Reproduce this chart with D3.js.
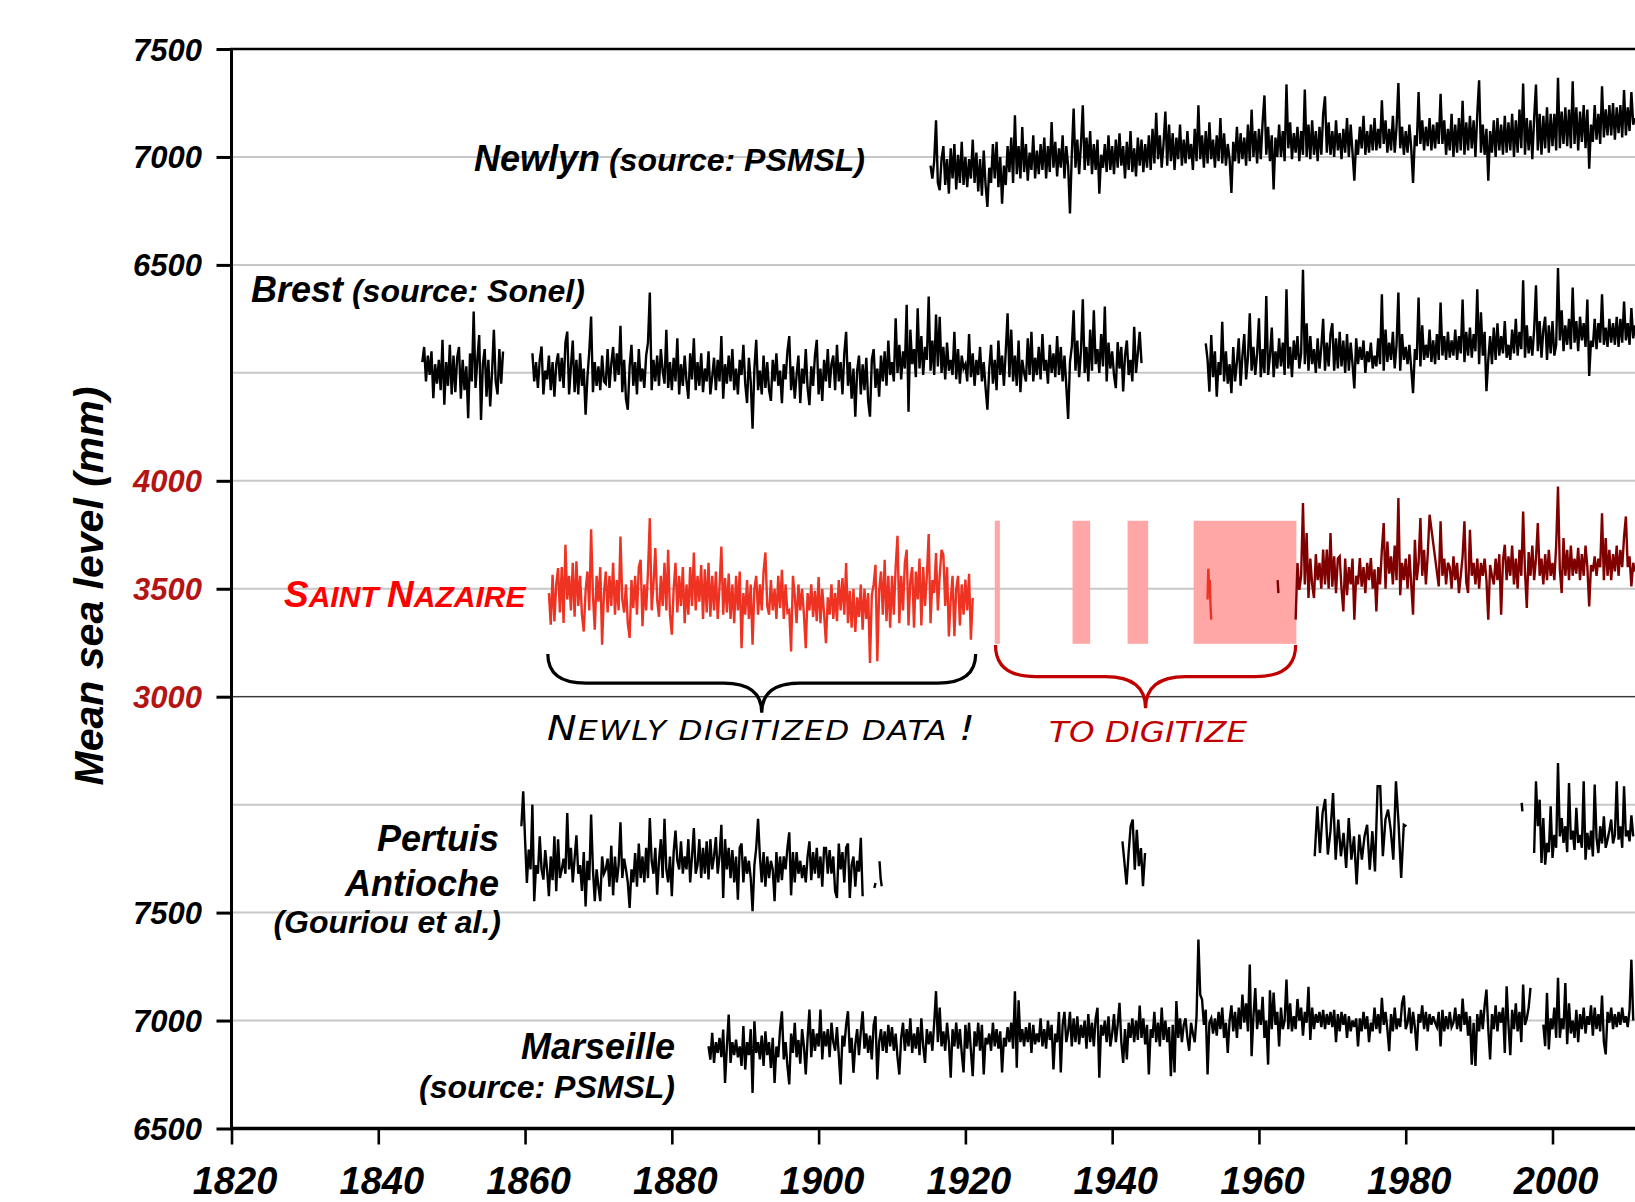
<!DOCTYPE html>
<html><head><meta charset="utf-8">
<script src="https://cdn.jsdelivr.net/npm/d3@7/dist/d3.min.js"></script>
<style>
html,body{margin:0;padding:0;background:#fff;}
svg{display:block;}
text{font-family:"Liberation Sans",Arial,sans-serif;font-weight:bold;font-style:italic;}
text.thin{font-family:"DejaVu Sans",sans-serif;font-weight:200;font-style:italic;}
</style></head><body>
<svg id="chart" width="1635" height="1202"></svg>
<script>
// ---------------- DATA (mm) ----------------
const xTickYears = [1820,1840,1860,1880,1900,1920,1940,1960,1980,2000];

// stacked panels: virtual = mm + offset
const panelMarseille = {offset:-6500, ticks:[6500,7000,7500], color:"#000"};
const panelNazaire   = {offset:-1000, ticks:[3000,3500,4000], color:"#b41414"};
const panelNewlyn    = {offset:-2500, ticks:[6500,7000,7500], color:"#000"};

// Newlyn, quarterly from 1915.25
const newlyn = [6960,6900,6980,
7170,6880,6846,6990, 7050,6870,6990,6830, 7040,6900,7060,6850, 7010,6880,7070,6870,
7000,6860,6990,6900, 7080,6880,7020,6840, 6990,6820,7030,6870, 6769,6950,6880,7060,
6900,7070,6860,7000, 6784,6960,6870,7050, 6930,7090,6880,7193, 6920,7050,6900,7139,
6930,7060,6890,7020, 6940,7100,6900,7030, 6920,7060,6940,7090, 6900,7050,6930,7162,
6950,7070,6910,7040, 6950,7100,6900,7050, 6960,6738,7010,7224, 6950,7080,6920,7060,
7239,6940,7090,6960, 7120,6920,7060,6940, 7080,6830,7010,6950, 7060,6930,7100,6940,
7050,6920,7080,6950, 7110,6960,7050,6900, 7070,6940,7120,6930, 7040,6910,7090,6960,
7080,6930,7060,6950, 7100,6940,7130,6970, 7204,6990,7100,6950, 7060,7210,6960,7150,
6980,7110,6940,7090, 6990,7150,6960,7080, 6970,7120,6990,7060, 6940,7130,6980,7239,
6990,7100,6950,7120, 6970,7160,6990,7080, 6950,7100,6980,7180, 6970,7110,6960,7060,
6990,6833,7070,6980, 7140,6970,7110,6990, 7090,6960,7150,6980, 7219,7000,7120,6970,
7130,6990,7160,7285, 7010,7140,6980,7100, 6850,7090,7000,7150, 7000,7120,6980,7336,
7040,7160,6990,7110, 7020,7140,6980,7120, 7010,7312,7000,7150, 6990,7170,7010,7120,
6980,7140,7010,7200, 7281,7020,7160,7010, 7120,7000,7170,7030, 7110,6990,7130,7020,
7180,7000,7150,7020, 6890,7080,7010,7140, 7040,7190,7010,7120, 7020,7150,7030,7180,
7030,7130,7040,7262, 7060,7170,7020,7130, 7030,7190,7020,7140, 7342,7040,7140,7010,
7120,7020,7150,7040, 6880,7100,7050,7301, 7060,7170,7030,7140, 7050,7180,7030,7150,
7040,7160,7060,7293, 7060,7170,7010,7130, 7030,7200,7000,7150, 7020,7180,7030,7260,
7010,7160,7030,7190, 7040,7170,7000,7200, 7355,7020,7150,7010, 7130,6890,7120,7020,
7170,7000,7180,7030, 7150,7010,7190,7020, 7160,7030,7200,7000, 7170,7020,7220,7040,
7340,7010,7180,7030, 7170,6990,7180,7335, 7030,7200,7010,7190, 7040,7230,7020,7200,
7050,7200,7030,7367, 7040,7210,7060,7230, 7050,7220,7040,7350, 7060,7230,7030,7210,
7070,7240,7040,7220, 6946,7150,7070,7240, 7080,7200,7060,7327, 7090,7220,7100,7240,
7100,7250,7080,7230, 7110,7240,7090,7310, 7100,7230,7120,7300, 7150,7180];

// Brest (panel shared with Newlyn), quarterly
const brestA = [6050,6120,5960,6080, 5990,6100,5883,6040, 5950,6060,5920,6153, 5852,6050,5940,6130,
5900,6080,5910,6070, 6120,5880,6060,5920, 6030,5790,6090,5960, 6284,5930,6060,6175,
5782,6040,6110,5890, 6060,5844,6000,6199, 5960,5900,6110,5950, 6099];
const brestB = [6091,5960,6050,5930, 6060,6122,5900,6010, 5970,6080,5920,6050, 5890,6040,6090,5960,
6070,5930,6140,6191, 5900,6030,6150,5910, 6060,5900,6090,5940, 6020,5806,5980,6100,
6261,5910,6050,5940, 6030,5920,6080,5960, 5950,6110,5930,6040, 6120,5960,6090,5990,
6218,5910,6060,5880, 5829,6030,6130,5940, 6050,5900,6110,5960, 6020,5930,6080,6140,
6372,5920,6060,5960, 6080,5940,6110,6010, 5950,6199,5930,6050, 5920,6070,5960,6160,
5900,6040,5940,6080, 5960,5880,6090,5970, 6160,5920,6050,5940, 6090,5910,6020,5960,
6100,5900,5980,6070, 5920,6060,5960,6170, 5880,6040,5950,6080, 5960,6110,5920,6020,
5900,6060,5990,6130, 5950,5860,6070,5960, 5741,6020,6153,5920, 6010,5900,6080,5930,
6050,5920,5870,6060, 5960,6090,5940,6010, 5860,6040,5970,6100, 6170,5920,6030,5880,
5990,6080,5860,6020, 5950,6110,5930,5850, 6030,5940,6080,6153, 5900,6020,5870,6060,
5960,6110,5930,6040, 6080,5920,6130,5960, 6050,5900,6090,6190, 5940,6050,5880,6020,
5797,6010,6080,5900, 6040,5920,6070,5870, 5797,6060,6110,5930, 6020,5890,6080,5960,
6100,5940,6150,5990, 6050,5960,6253,6000, 6130,5970,6100,6020, 6315,5820,6200,6040,
6110,5980,6299,6020, 6170,5990,6120,6060, 6353,6010,6150,5990, 6270,6030,6260,6000,
6120,5970,6140,6010, 6060,5990,6190,5970, 6110,5950,6080,6020, 6040,5960,6180,5980,
6090,5940,6060,5990, 6120,5960,6050,5930, 5829,6020,6130,5950, 6060,5920,6150,5990,
6080,5940,6100,6276, 5980,6200,5960,6080, 5940,6150,5910,6060, 6000,5960,6160,5990,
6190,5960,6070,5990, 6120,5970,6180,6010, 6060,5950,6130,6000, 6090,5980,6170,5990,
6120,5960,6080,5940, 5786,6050,6120,6290, 6010,6150,5980,6100, 6341,6000,6120,5960,
6200,6010,6290,6040, 6110,6000,6180,6030, 6307,5960,6140,6020, 6100,5990,5929,6142,
6020,6120,5914,6080, 6150,5990,6060,5960, 6213,6000,6090,6190, 6045];
const brestC = [6137,
6060,5913,6175,5980, 6100,5890,6050,5990, 6237,5960,6100,5950, 6040,5906,6120,5960,
6050,6160,5940,6080, 6180,5970,6070,6276, 6010,6120,5990,6090, 6253,5980,6110,6000,
6356,5990,6080,6210, 5980,6100,6020,6160, 6030,6140,5990,6387, 6020,6120,5980,6150,
6060,6170,6020,6090, 6477,6040,6230,6010, 6170,6040,6110,6000, 6160,6020,6120,6250,
6010,6140,6030,6180, 6230,6010,6160,6020, 6190,6030,6150,6000, 6180,6010,6140,6040,
5928,6160,6040,6120, 6060,6150,6000,6100, 6050,6140,6020,6080, 6030,6160,6040,6364,
6010,6200,6050,6140, 6060,6190,6020,6130, 6372,6010,6180,6060, 6120,6040,6130,6020,
5906,6110,6060,6349, 6030,6220,6060,6130, 6070,6200,6050,6150, 6040,6180,6060,6326,
6080,6170,6060,6190, 6070,6150,6080,6200, 6060,6170,6090,6340, 6050,6190,6080,6210,
6070,6180,6100,6387, 6040,6280,6080,6190, 5915,6060,6170,6040, 6210,6060,6230,6080,
6170,6090,6240,6070, 6130,6060,6200,6090, 6250,6080,6190,6110, 6429,6070,6220,6090,
6170,6080,6200,6406, 6100,6240,6070,6200, 6260,6060,6220,6090, 6240,6080,6130,6486,
6150,6290,6100,6220, 6130,6250,6110,6395, 6140,6240,6100,6260, 6150,6230,6120,6340,
5986,6150,6120,6250, 6110,6230,6140,6364, 6130,6210,6120,6250, 6140,6230,6130,6260,
6120,6250,6140,6330, 6150,6230,6130,6300, 6160,6220];

// Saint Nazaire, quarterly
const nazaireA = [3480,3333,3565,
3349,3520,3596,3390, 3600,3341,3704,3450, 3560,3400,3620,3370, 3627,3420,3560,3380,
3302,3490,3580,3400, 3776,3470,3310,3560, 3440,3600,3241,3480, 3580,3390,3560,3420,
3620,3380,3540,3400, 3742,3450,3390,3520, 3340,3272,3540,3410, 3560,3380,3600,3634,
3326,3520,3400,3580, 3827,3400,3520,3688, 3450,3370,3560,3420, 3620,3400,3680,3380,
3287,3500,3620,3390, 3560,3420,3600,3340, 3520,3380,3600,3420, 3668,3400,3560,3440,
3610,3360,3590,3390, 3620,3370,3560,3400, 3580,3360,3510,3696, 3380,3550,3390,3570,
3360,3520,3340,3560, 3400,3580,3225,3480, 3380,3540,3360,3520, 3241,3500,3560,3380,
3520,3400,3580,3668, 3420,3380,3540,3400, 3500,3360,3560,3410, 3588,3360,3520,3390,
3400,3210,3560,3470, 3340,3520,3400,3500, 3380,3225,3480,3400, 3520,3370,3490,3350,
3554,3340,3500,3380, 3248,3460,3380,3520, 3360,3480,3350,3540, 3400,3550,3380,3619,
3340,3490,3320,3500, 3300,3460,3370,3520, 3310,3500,3360,3480, 3156,3470,3520,3611,
3164,3490,3580,3380, 3634,3350,3560,3320, 3560,3380,3600,3745, 3340,3560,3400,3620,
3681,3330,3540,3600, 3320,3580,3450,3640, 3330,3600,3420,3560, 3753,3340,3540,3480,
3665,3400,3560,3680, 3657,3420,3600,3279, 3450,3560,3280,3500, 3560,3330,3520,3380,
3542,3400,3569,3264, 3457];
const nazaire1953 = [3450,3593,3520,3540,3420,3357];
const nazaire1962 = [3540,3480];
const nazaireB1 = [3357,3619,3495,3560, 3897,3520,3758,3457, 3640,3520,3457,3660, 3540,3620,3500,3681,
3520,3681,3500,3758, 3510,3650,3480,3640, 3650,3500,3395,3640, 3470,3600,3520,3640,
3357,3560,3520,3642, 3510,3600,3480,3620, 3540,3642,3500,3590, 3395,3600,3520,3680,
3804,3500,3719,3570, 3650,3520,3700,3540, 3920,3470,3620,3540, 3640,3500,3660,3520,
3380,3727,3540,3620, 3827,3560,3680,3520, 3660,3843];
const nazaireB2 = [3511,3812,
3560,3640,3520,3620, 3600,3500,3650,3540, 3620,3480,3560,3650, 3812,3530,3480,3773,
3560,3620,3520,3640, 3500,3620,3560,3640, 3540,3357,3610,3560, 3520,3640,3540,3660,
3380,3630,3704,3540, 3650,3560,3700,3520, 3640,3500,3680,3560, 3858,3580,3411,3670,
3560,3700,3540,3640, 3804,3560,3640,3520, 3660,3540,3680,3560, 3620,3540,3700,3974,
3590,3480,3735,3560, 3680,3540,3700,3560, 3640,3570,3690,3540, 3660,3560,3700,3600,
3418,3610,3580,3650, 3560,3640,3600,3850, 3540,3735,3560,3680, 3540,3660,3580,3700,
3560,3680,3600,3740, 3835,3600,3650,3511, 3620,3580];

// Pertuis d'Antioche (panel shared with Marseille)
const pertuisA = [7900,8062,
7838,7637,7792,7700, 8000,7553,7720,7680, 7853,7700,7653,7790, 7700,7576,7760,7650,
7853,7599,7840,7660, 7700,7750,7680,7961, 7700,7800,7640,7750, 7858,7680,7720,7600,
7780,7529,7740,7650, 7954,7700,7553,7700, 7620,7553,7760,7680, 7700,7750,7620,7810,
7580,7760,7640,7720, 7918,7660,7750,7700, 7640,7522,7700,7640, 7776,7620,7820,7660,
7760,7640,7800,7660, 7938,7740,7680,7800, 7583,7740,7840,7660, 7935,7700,7640,7760,
7576,7780,7880,7740, 7700,7830,7680,7760, 7700,7840,7640,7760, 7892,7680,7720,7840,
7660,7800,7680,7830, 7653,7840,7700,7760, 7850,7680,7760,7907, 7568,7840,7700,7800,
7660,7790,7640,7760, 7560,7800,7820,7640, 7760,7680,7740,7660, 7506,7720,7800,7934,
7760,7640,7780,7620, 7760,7660,7740,7700, 7553,7780,7640,7760, 7650,7760,7700,7800,
7872,7580,7780,7640, 7780,7680,7740,7660, 7720,7640,7760,7830, 7650,7780,7680,7800,
7660,7760,7620,7800, 7800,7680,7790,7680, 7760,7600,7568,7820, 7700,7780,7640,7800,
7820,7568,7720,7760, 7620,7740,7690,7846, 7576];
const pertuis1907 = [7614,7637];
const pertuis1908 = [7738,7660,7622];
const pertuis1941 = [7830,7730,7630,7776,7900,7931,7699,7884,7715,7799,7622,7776];
const pertuis1967 = [7761,7992,7776,7961,8026,7769,7877,8054,7745,7931,7761,7869,7707,7938,7745,7853,
7630,7861,7745,7853,7907,7699,7877,7691,8085,8085,7761,7931,7977,7884,7745,8108,7915,7661,7907,7900];
const pertuis1995 = [8008,7969];
const pertuis1997 = [7776,8108,
7900,8023,7730,7938, 7722,7823,7780,7992, 7753,7860,7800,8193, 7853,7938,7823,7900,
7780,8100,7838,7880, 7790,7985,7823,7860, 7800,8108,7745,7869, 7792,7880,7760,8093,
7846,7776,7900,7820, 7946,7800,7838,7880, 7931,7820,7860,8108, 7838,7900,7800,8085,
7853,7880,7830,7950, 7853];

// Marseille, quarterly
const marseilleA = [6881,6819,6943,6804, 6900,6850,6920,6830, 6958,6711,6880,7028, 6804,6900,6840,6912,
6830,6880,6790,6974, 6773,6900,6840,6960, 6665,6997,6850,6900, 6820,6930,6790,6950,
6840,6900,6780,6920, 6711,6880,6830,6960, 7043,6820,6900,6790, 6704,6940,6850,6990,
6830,6910,6800,6960, 6880,6750,6920,7051, 6830,6960,6860,6940, 6880,7051,6820,6950,
6880,6960,6830,6990, 6900,6860,6970,6840, 6704,6930,6880,6980, 7043,6850,6920,6758,
6890,6960,6840,6950, 7043,6870,6940,6850, 6930,6820,6980,7020, 6727,6900,6960,6860,
6950,6850,6980,6880, 6970,6860,6940,6830, 6750,6920,6990,6860, 6960,6880,7010,6850,
6940,6870,6970,6840, 7010,6880,6804,6960, 6890,6950,6860,6990, 7136,6900,7060,6880,
6950,6860,6990,6900, 6735,6960,6880,6990, 6870,6960,6850,6760, 6980,6870,6990,6860,
6742,6950,6880,6990, 6860,6980,6750,6920, 6890,6940,6860,6990, 6880,6960,6870,6950,
6760,6920,6880,6970, 6900,6990,6870,7136, 6781,7094,6900,6960, 6880,6970,6900,6990,
6850,6980,6890,6940, 6900,7010,6880,6960, 6870,7000,6910,6980, 6773,6940,6900,7040,
6760,6980,7040,6900, 6950,7040,6880,7010, 6900,7020,6890,6980, 6920,7000,6870,7030,
6900,6990,6880,7010, 7059,6735,6980,6930, 7000,6900,7020,6880, 6940,7030,6900,6980,
7082,6900,6804,6960, 6820,6990,6920,7010, 6900,7000,6910,7069, 6920,7010,6890,6980,
6750,6960,6920,7040, 6900,6990,6880,7060, 6910,7000,6900,6970, 6742,6980,6760,7090,
6920,7010,6900,6980, 7010,6920,6860,6990, 6940,6900,7020,7375, 7120,7097,6980,7050,
6750,6990,7010,6940, 7010,6930,7040,6960, 7060,6920,6990,6850, 7000,7070,6950,7040,
6920,7060,6960,7120, 6990,7080,6950,7259, 6835,7020,7150,6960, 7050,6980,7110,6920,
7000,6796,7140,6960, 7130,6980,7040,6880, 7060,6960,7000,7190, 6960,7080,6950,7020,
6960,7100,7000,7060, 6930,7040,6990,7156, 6910,7060,6960,7030, 6990,7040,6970,7050,
6960,7030,6980,7040, 6970,7050,6900,7030, 6950,7040,6980,7030, 6920,7020,6950,7000,
6970,7010,6880,7010, 6950,7040,6960,7020, 6900,6990,6950,7060, 6960,7030,6940,7105,
6980,7040,6960,6858, 7030,6950,7060,6960, 7010,6970,7080,7116, 6960,6990,7060,6940,
7040,6970,6860,7030, 6990,7070,6960,7040, 6950,7030,6980,7020, 6990,6970,7040,6880,
7050,6950,7020,6960, 7040,6970,6990,7060, 6960,7030,6950,7102, 6980,7040,6930,7020,
6796,6990,6790,7030, 6950,7050,6960,7070, 7143,6960,6820,7030, 6960,7070,6950,7040,
6990,7060,6850,7159, 6980,6840,7050,6960, 7080,6950,7040,6900, 7167,6980,7010,7060,
7151];
const marseilleB = [6981,
6881,7128,6866,7010, 6960,7060,6920,7198, 6920,7010,6960,7174, 6890,7080,6940,7000,
6920,7050,6900,7030, 6960,7060,6940,7020, 6980,7070,6930,7060, 6960,7030,6950,7116,
6900,6843,7040,6990, 7060,6960,7030,6970, 7040,6980,7060,6990, 7020,6970,7050,7282, 7000];

// periods still to digitize at Saint Nazaire (years) and their band (mm)
const toDigitizePeriods = [[1924.0,1924.7],[1934.6,1937.0],[1942.1,1944.9],[1951.1,1965.1]];
const toDigitizeBand = [3245, 3815];

// ---------------- CHART ----------------
const W = 1635, H = 1202;
const svg = d3.select("#chart");
const x = d3.scaleLinear().domain([1820, 2000]).range([231.5, 1552.5]);
const y = d3.scaleLinear().domain([0, 5000]).range([1128.5, 49]);
const right = W;

svg.append("defs").append("clipPath").attr("id","plotclip")
  .append("rect").attr("x", x(1820)).attr("y", 0).attr("width", right - x(1820)).attr("height", H);

// grid
svg.append("g").selectAll("line").data(d3.range(500, 5000, 500)).join("line")
  .attr("x1", x(1820)).attr("x2", right)
  .attr("y1", d => y(d)).attr("y2", d => y(d))
  .attr("stroke", "#c8c8c8").attr("stroke-width", 2);
svg.append("line")
  .attr("x1", x(1820)).attr("x2", right)
  .attr("y1", y(3000 + panelNazaire.offset)).attr("y2", y(3000 + panelNazaire.offset))
  .attr("stroke", "#3a3a3a").attr("stroke-width", 1.3);

// pink "to digitize" blocks
svg.append("g").selectAll("rect").data(toDigitizePeriods).join("rect")
  .attr("x", d => x(d[0])).attr("width", d => x(d[1]) - x(d[0]))
  .attr("y", y(toDigitizeBand[1] + panelNazaire.offset))
  .attr("height", y(toDigitizeBand[0] + panelNazaire.offset) - y(toDigitizeBand[1] + panelNazaire.offset))
  .attr("fill", "#ffa6a6");

// series: pieces are lists of runs [startYear, step, values]; runs in a piece are joined
const seriesDefs = [
  {offset: panelNewlyn.offset, color: "#000", pieces: [[[1915.25, 0.25, newlyn]]]},
  {offset: panelNewlyn.offset, color: "#000", pieces: [[[1846, 0.25, brestA]], [[1861, 0.25, brestB]], [[1952.75, 0.25, brestC]]]},
  {offset: panelNazaire.offset, color: "#ef3323", pieces: [[[1863.25, 0.25, nazaireA]], [[1953.0, 0.1, nazaire1953]]]},
  {offset: panelNazaire.offset, color: "#800000", pieces: [[[1962.55, 0.1, nazaire1962]], [[1965, 0.25, nazaireB1], [1984.5, 0.25, nazaireB2]]]},
  {offset: panelMarseille.offset, color: "#000", pieces: [[[1859.5, 0.25, pertuisA]], [[1907.6, 0.15, pertuis1907]], [[1908.3, 0.15, pertuis1908]],
      [[1941.4, 0.28, pertuis1941]], [[1967.6, 0.357, pertuis1967]], [[1995.8, 0.1, pertuis1995]], [[1997.5, 0.25, pertuis1997]]]},
  {offset: panelMarseille.offset, color: "#000", pieces: [[[1885, 0.25, marseilleA]], [[1998.75, 0.25, marseilleB]]]}
];
const gS = svg.append("g").attr("clip-path", "url(#plotclip)");
seriesDefs.forEach(s => {
  const line = d3.line().x(d => x(d[0])).y(d => y(d[1] + s.offset));
  s.pieces.forEach(piece => {
    const pts = [];
    piece.forEach(([start, step, vals]) => vals.forEach((v, i) => pts.push([start + i * step, v])));
    gS.append("path").attr("d", line(pts)).attr("fill", "none")
      .attr("stroke", s.color).attr("stroke-width", 2.4);
  });
});

// braces
const braces = [
  {from: 1863.1, to: 1921.4, top: 3198, mid: 3063, tip: 2926, color: "#000", r: 38},
  {from: 1924.1, to: 1965.0, top: 3240, mid: 3093, tip: 2946, color: "#c00000", r: 40}
];
braces.forEach(b => {
  const x0 = x(b.from), x1 = x(b.to), xc = (x0 + x1) / 2;
  const yT = y(b.top + panelNazaire.offset), yH = y(b.mid + panelNazaire.offset), yP = y(b.tip + panelNazaire.offset);
  const d = `M${x0},${yT} Q${x0},${yH} ${x0 + b.r},${yH} L${xc - b.r},${yH} Q${xc},${yH} ${xc},${yP} ` +
            `Q${xc},${yH} ${xc + b.r},${yH} L${x1 - b.r},${yH} Q${x1},${yH} ${x1},${yT}`;
  svg.append("path").attr("d", d).attr("fill", "none").attr("stroke", b.color).attr("stroke-width", 3.2);
});

// axes
const yTickVals = [], yTickLab = [], yTickCol = [];
[panelMarseille, panelNazaire, panelNewlyn].forEach(p => p.ticks.forEach(t => {
  yTickVals.push(t + p.offset); yTickLab.push(String(t)); yTickCol.push(p.color);
}));
const yAxis = svg.append("g").attr("transform", `translate(${x(1820)},0)`)
  .call(d3.axisLeft(y).tickValues(yTickVals).tickSize(15).tickFormat((d, i) => yTickLab[i]));
yAxis.select(".domain").remove();
yAxis.selectAll(".tick line").attr("stroke", "#000").attr("stroke-width", 3);
yAxis.selectAll(".tick text").attr("x", -29.5).attr("dy", 0).attr("y", 11)
  .style("font-size", "31px").attr("fill", (d, i) => yTickCol[i]);

const xAxis = svg.append("g").attr("transform", `translate(0,${y(0)})`)
  .call(d3.axisBottom(x).tickValues(xTickYears).tickSize(16).tickFormat(d3.format("d")));
xAxis.select(".domain").remove();
xAxis.selectAll(".tick line").attr("stroke", "#000").attr("stroke-width", 2.6);
xAxis.selectAll(".tick text").attr("y", 65).attr("dy", 0).attr("x", 3).style("font-size", "38px").attr("fill", "#000");

svg.append("line").attr("x1", x(1820)).attr("x2", x(1820)).attr("y1", y(5000) - 1).attr("y2", y(0) + 1.5)
  .attr("stroke", "#000").attr("stroke-width", 3);
svg.append("line").attr("x1", x(1820) - 1.5).attr("x2", right).attr("y1", y(5000)).attr("y2", y(5000))
  .attr("stroke", "#000").attr("stroke-width", 2.6);
svg.append("line").attr("x1", x(1820) - 1.5).attr("x2", right).attr("y1", y(0)).attr("y2", y(0))
  .attr("stroke", "#000").attr("stroke-width", 3.6);

// axis title
svg.append("text").attr("transform", "translate(103,586) rotate(-90)")
  .attr("text-anchor", "middle").style("font-size", "41px").attr("fill", "#000").text("Mean sea level (mm)");

// station labels
function label(xp, yp, parts, anchor, fill) {
  const t = svg.append("text").attr("x", xp).attr("y", yp).attr("text-anchor", anchor || "start").attr("fill", fill || "#000");
  parts.forEach(([txt, size]) => t.append("tspan").style("font-size", size + "px").text(txt));
  return t;
}
label(474, 171, [["Newlyn", 36], [" (source: PSMSL)", 32]]);
label(251, 302, [["Brest", 36], [" (source: Sonel)", 32]]);
label(284, 607, [["S", 37], ["AINT ", 30], ["N", 37], ["AZAIRE", 30]], "start", "#ff0000");
label(499, 851, [["Pertuis", 36]], "end");
label(499, 896, [["Antioche", 36]], "end");
label(501, 933, [["(Gouriou et al.)", 32]], "end");
label(675, 1059, [["Marseille", 36]], "end");
label(675, 1098, [["(source: PSMSL)", 32]], "end");

const t1 = svg.append("text").attr("class", "thin").attr("transform", "translate(547,740) scale(1.2,1)").attr("fill", "#000")
  .attr("textLength", 428 / 1.2).attr("lengthAdjust", "spacing");
t1.append("tspan").style("font-size", "33px").text("N");
t1.append("tspan").style("font-size", "26px").text("EWLY DIGITIZED DATA ");
t1.append("tspan").style("font-size", "33px").text("!");
svg.append("text").attr("class", "thin").attr("transform", "translate(1049,742) scale(1.12,1)").attr("fill", "#c00000")
  .attr("textLength", 198 / 1.12).attr("lengthAdjust", "spacing").style("font-size", "29px").text("TO DIGITIZE");
</script>
</body></html>
